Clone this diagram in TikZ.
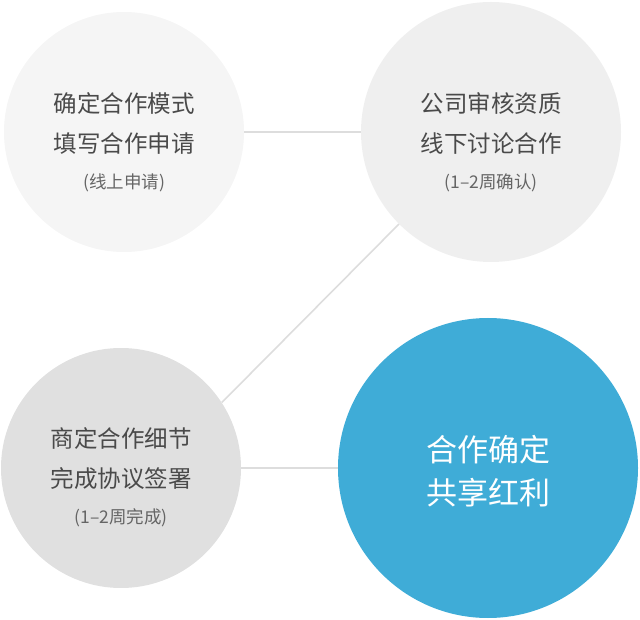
\documentclass[tikz,border=0pt]{standalone}
\usepackage{fontspec}
\setmainfont{Noto Sans CJK SC}
\definecolor{bubbleA}{HTML}{F5F5F5}
\definecolor{bubbleB}{HTML}{EFEFEF}
\definecolor{bubbleC}{HTML}{E0E0E0}
\definecolor{bubbleBlue}{HTML}{3FACD7}
\definecolor{linkgray}{HTML}{DDDDDD}
\definecolor{textgray}{HTML}{4A4A4A}
\newcommand{\subfont}{\fontsize{17.5}{20}\selectfont\color{textgray!85}}
\tikzset{
  bubble/.style={
    shape = circle,
    inner sep = 0pt,
    minimum size = 240pt
  },
  link/.style={
    draw = linkgray,
    line width = 1.6pt
  },
  headtext/.style={
    align = center,
    text = textgray,
    font = \fontsize{23.5}{40}\selectfont
  },
  bigtext/.style={
    align = center,
    text = white,
    font = \fontsize{31}{43}\selectfont
  }
}
\begin{document}
\begin{tikzpicture}[x=1pt,y=-1pt]
  \useasboundingbox (0,0) rectangle (640,620);
  \node[bubble,fill=bubbleA] (apply) at (124,132) {};
  \node[bubble,fill=bubbleB,minimum size=260pt] (review) at (491,132) {};
  \node[bubble,fill=bubbleC] (sign) at (121,468) {};
  \node[bubble,fill=bubbleBlue,minimum size=300pt] (share) at (488,468) {};
  % connectors
  \draw[link] (apply) -- (review);
  \draw[link] (review.225) -- (sign.33);
  \draw[link] (sign) -- (share);
  % texts
  \node[headtext] (applytext) at ([yshift=-10pt]apply.center)
    {确定合作模式\\填写合作申请\\[-4pt]{\subfont (线上申请)}};
  \node[headtext] (reviewtext) at ([yshift=-10pt]review.center)
    {公司审核资质\\线下讨论合作\\[-4pt]{\subfont (1–2周确认)}};
  \node[headtext] (signtext) at ([yshift=-9pt]sign.center)
    {商定合作细节\\完成协议签署\\[-4pt]{\subfont (1–2周完成)}};
  \node[bigtext] (sharetext) at ([yshift=-3pt]share.center)
    {合作确定\\共享红利};
\end{tikzpicture}
\end{document}
